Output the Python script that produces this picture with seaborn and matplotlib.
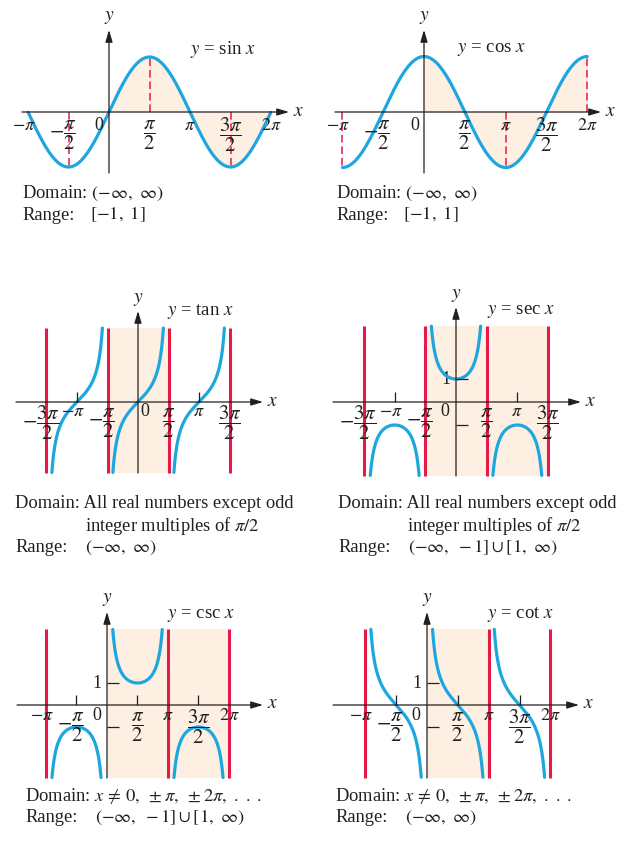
import numpy as np
import pandas as pd
import matplotlib
matplotlib.use("Agg")
import matplotlib.pyplot as plt
import seaborn as sns

PI = np.pi
W, H = 631, 843

BLUE = "#1ea6e0"
RED = "#e6194b"
PEACH = "#fdf0e2"
INK = "#231f20"

# ---- data ----
sin_span = [-PI, 2 * PI]
sin_shade = [0, 2 * PI]
sin_dash = [-PI / 2, PI / 2, 3 * PI / 2]

cos_span = [-PI, 2 * PI]
cos_shade = [0, 2 * PI]
cos_dash = [-PI, PI, 2 * PI]

tan_branches = [(-3 * PI / 2, -PI / 2), (-PI / 2, PI / 2), (PI / 2, 3 * PI / 2)]
tan_asym = [-3 * PI / 2, -PI / 2, PI / 2, 3 * PI / 2]
tan_shade = [-PI / 2, PI / 2]
tan_clip = [-3.55, 3.7]

sec_branches = [(-3 * PI / 2, -PI / 2), (-PI / 2, PI / 2), (PI / 2, 3 * PI / 2)]
sec_asym = [-3 * PI / 2, -PI / 2, PI / 2, 3 * PI / 2]
sec_shade = [-PI / 2, 3 * PI / 2]
sec_clip = [-3.2, 3.3]

csc_branches = [(-PI, 0), (0, PI), (PI, 2 * PI)]
csc_asym = [-PI, PI, 2 * PI]
csc_shade = [0, 2 * PI]
csc_clip = [-3.3, 3.45]

cot_branches = [(-PI, 0), (0, PI), (PI, 2 * PI)]
cot_asym = [-PI, PI, 2 * PI]
cot_shade = [0, PI]
cot_clip = [-3.3, 3.45]

# tick labels
sc_tick_vals = [-PI, -PI / 2, 0, PI / 2, PI, 3 * PI / 2, 2 * PI]
sc_tick_labels = [r"$-\pi$", r"$-\dfrac{\pi}{2}$", "0", r"$\dfrac{\pi}{2}$",
                  r"$\pi$", r"$\dfrac{3\pi}{2}$", r"$2\pi$"]
ts_tick_vals = [-3 * PI / 2, -PI, -PI / 2, 0, PI / 2, PI, 3 * PI / 2]
ts_tick_labels = [r"$-\dfrac{3\pi}{2}$", r"$-\pi$", r"$-\dfrac{\pi}{2}$", "0",
                  r"$\dfrac{\pi}{2}$", r"$\pi$", r"$\dfrac{3\pi}{2}$"]
cc_tick_vals = sc_tick_vals
cc_tick_labels = sc_tick_labels
ts_small_ticks = [-PI, PI]
cc_small_ticks = [-PI / 2, PI / 2, 3 * PI / 2]

name_tex = [r"$y$ = sin $x$", r"$y$ = cos $x$", r"$y$ = tan $x$",
            r"$y$ = sec $x$", r"$y$ = csc $x$", r"$y$ = cot $x$"]
domains = [r"Domain: $(-\infty,\ \infty)$", r"Domain: $(-\infty,\ \infty)$",
           "Domain: All real numbers except odd", "Domain: All real numbers except odd",
           r"Domain: $x\,\neq\,0,\ \pm\pi,\ \pm2\pi,\ .\ .\ .$",
           r"Domain: $x\,\neq\,0,\ \pm\pi,\ \pm2\pi,\ .\ .\ .$"]
domain_extra = r"integer multiples of $\pi/2$"
ranges = [r"$[-1,\ 1]$", r"$[-1,\ 1]$", r"$(-\infty,\ \infty)$",
          r"$(-\infty,\ -1]\cup[1,\ \infty)$", r"$(-\infty,\ -1]\cup[1,\ \infty)$",
          r"$(-\infty,\ \infty)$"]

sns.set_theme(style="white")
plt.rcParams["font.family"] = ["Liberation Serif", "DejaVu Serif"]
plt.rcParams["mathtext.fontset"] = "stix"

fig = plt.figure(figsize=(W / 100, H / 100), dpi=100)
fig.patch.set_facecolor("white")

TXT = 13.3


def make_ax(origin, scale, box):
    ox, oy = origin
    sx, sy = scale
    l, t, r, b = box
    ax = fig.add_axes([l / W, 1 - b / H, (r - l) / W, (b - t) / H])
    ax.set_xlim((l - ox) / sx, (r - ox) / sx)
    ax.set_ylim((oy - b) / sy, (oy - t) / sy)
    ax.set_axis_off()
    return ax


def axis_arrows(ax, origin, scale, xl, xr, yb, yt):
    ox, oy = origin
    sx, sy = scale
    arr = dict(arrowstyle="-|>,head_length=0.6,head_width=0.18", lw=0.9,
               color=INK, shrinkA=0, shrinkB=0)
    x0, x1 = (xl - ox) / sx, (xr - ox) / sx
    y0, y1 = (oy - yb) / sy, (oy - yt) / sy
    ax.annotate("", xy=(x1, 0), xytext=(x0, 0), arrowprops=arr, zorder=5)
    ax.annotate("", xy=(0, y1), xytext=(0, y0), arrowprops=arr, zorder=5)
    ax.annotate(r"$x$", xy=(x1, 0), xytext=(4, 1), textcoords="offset pixels",
                ha="left", va="center", fontsize=14, color=INK)
    ax.annotate(r"$y$", xy=(0, y1), xytext=(0, 12), textcoords="offset pixels",
                ha="center", va="center", fontsize=14, color=INK)


def tick_labels(ax, vals, labels, dy_single, dy_frac, zero_dx):
    for v, s in zip(vals, labels):
        frac = "frac" in s
        if s == "0":
            dx = zero_dx
        elif s.startswith("$-"):
            dx = -6 if frac else -4
        else:
            dx = 0
        dy = dy_frac if frac else dy_single
        ax.annotate(s, xy=(v, 0), xytext=(dx, -dy), textcoords="offset pixels",
                    ha="center", va="center", fontsize=15 if frac else 13,
                    color=INK, zorder=6)


def curve(ax, f, lo, hi, clip=None):
    x = np.linspace(lo, hi, 1500)[1:-1]
    y = f(x)
    if clip is not None:
        keep = (y >= clip[0]) & (y <= clip[1])
        x, y = x[keep], y[keep]
    df = pd.DataFrame({"x": x, "y": y})
    sns.lineplot(data=df, x="x", y="y", ax=ax, color=BLUE, lw=2.3,
                 sort=False, estimator=None, zorder=4)


def small_ticks(ax, scale, xs, ones):
    sx, sy = scale
    if xs:
        ax.vlines(xs, 0, 10 / sy, color=INK, lw=0.9, zorder=5)
    if ones:
        ax.hlines([1, -1], 0, 12 / sx, color=INK, lw=0.9, zorder=5)
        ax.annotate("1", xy=(0, 1), xytext=(-10, 0), textcoords="offset pixels",
                    ha="center", va="center", fontsize=13, color=INK)


def px(x, y):
    return x / W, 1 - y / H


# ---- sin ----
o, s = (109, 112), (81 / PI, 55)
ax = make_ax(o, s, (5, 5, 308, 180))
xs = np.linspace(*sin_shade, 400)
ax.fill_between(xs, np.sin(xs), 0, color=PEACH, lw=0, zorder=0)
curve(ax, np.sin, sin_span[0] - 1e-9, sin_span[1] + 1e-9)
ax.vlines(sin_dash, 0, np.sin(sin_dash), color=RED, lw=1.1,
          linestyles=(0, (5, 2.5)), zorder=3)
axis_arrows(ax, o, s, 22, 289, 173, 30)
tick_labels(ax, sc_tick_vals, sc_tick_labels, 13, 23, -10)

# ---- cos ----
o, s = (424, 112), (81.7 / PI, 55.5)
ax = make_ax(o, s, (320, 5, 625, 180))
xs = np.linspace(*cos_shade, 400)
ax.fill_between(xs, np.cos(xs), 0, color=PEACH, lw=0, zorder=0)
curve(ax, np.cos, cos_span[0] - 1e-9, cos_span[1] + 1e-9)
ax.vlines(cos_dash, 0, np.cos(cos_dash), color=RED, lw=1.1,
          linestyles=(0, (5, 2.5)), zorder=3)
axis_arrows(ax, o, s, 335, 601, 173, 30)
tick_labels(ax, sc_tick_vals, sc_tick_labels, 13, 23, -9)

# ---- tan ----
o, s = (138, 402), (61 / PI, 20)
ax = make_ax(o, s, (5, 290, 305, 480))
ax.fill_between(tan_shade, tan_clip[0], tan_clip[1], color=PEACH, lw=0, zorder=0)
for lo, hi in tan_branches:
    curve(ax, np.tan, lo, hi, tan_clip)
ax.vlines(tan_asym, tan_clip[0], tan_clip[1], color=RED, lw=2.2, zorder=3)
axis_arrows(ax, o, s, 16, 263, 473, 311)
small_ticks(ax, s, ts_small_ticks, False)
tick_labels(ax, ts_tick_vals, ts_tick_labels, 9, 21, 7)

# ---- sec ----
o, s = (456, 402), (61.3 / PI, 23)
ax = make_ax(o, s, (320, 290, 625, 480))
ax.fill_between(sec_shade, sec_clip[0], sec_clip[1], color=PEACH, lw=0, zorder=0)
for lo, hi in sec_branches:
    curve(ax, lambda v: 1 / np.cos(v), lo, hi, sec_clip)
ax.vlines(sec_asym, sec_clip[0], sec_clip[1], color=RED, lw=2.2, zorder=3)
axis_arrows(ax, o, s, 333, 581, 476, 307)
small_ticks(ax, s, ts_small_ticks, True)
tick_labels(ax, ts_tick_vals, ts_tick_labels, 9, 21, -11)

# ---- csc ----
o, s = (107, 705), (61 / PI, 22)
ax = make_ax(o, s, (5, 595, 305, 785))
ax.fill_between(csc_shade, csc_clip[0], csc_clip[1], color=PEACH, lw=0, zorder=0)
for lo, hi in csc_branches:
    curve(ax, lambda v: 1 / np.sin(v), lo, hi, csc_clip)
ax.vlines(csc_asym, csc_clip[0], csc_clip[1], color=RED, lw=2.2, zorder=3)
axis_arrows(ax, o, s, 17, 263, 778, 612)
small_ticks(ax, s, cc_small_ticks, True)
tick_labels(ax, cc_tick_vals, cc_tick_labels, 11, 22, -10)

# ---- cot ----
o, s = (427, 705), (61.7 / PI, 22)
ax = make_ax(o, s, (320, 595, 625, 785))
ax.fill_between(cot_shade, cot_clip[0], cot_clip[1], color=PEACH, lw=0, zorder=0)
for lo, hi in cot_branches:
    curve(ax, lambda v: 1 / np.tan(v), lo, hi, cot_clip)
ax.vlines(cot_asym, cot_clip[0], cot_clip[1], color=RED, lw=2.2, zorder=3)
axis_arrows(ax, o, s, 333, 579, 778, 612)
small_ticks(ax, s, cc_small_ticks, True)
tick_labels(ax, cc_tick_vals, cc_tick_labels, 11, 22, -11)

# ---- function names ----
name_pos = [(190, 50), (457, 50), (167, 312), (487, 312), (167, 615), (487, 615)]
for (x, y), t in zip(name_pos, name_tex):
    fig.text(*px(x, y), t, ha="left", va="center", fontsize=13.5, color=INK)

# ---- domain / range text ----
dom_pos = [(22, 193), (336, 193), (15, 504), (338, 504), (25, 796), (335, 796)]
rng_pos = [(22, 215), (336, 215), (15, 548), (338, 548), (25, 818), (335, 818)]
rng_val_x = [90, 403, 85, 408, 95, 405]
for i in range(6):
    fig.text(*px(*dom_pos[i]), domains[i], ha="left", va="center", fontsize=TXT, color=INK)
    fig.text(*px(*rng_pos[i]), "Range:", ha="left", va="center", fontsize=TXT, color=INK)
    fig.text(*px(rng_val_x[i], rng_pos[i][1]), ranges[i], ha="left", va="center",
             fontsize=TXT, color=INK)
fig.text(*px(85, 526), domain_extra, ha="left", va="center", fontsize=TXT, color=INK)
fig.text(*px(407, 526), domain_extra, ha="left", va="center", fontsize=TXT, color=INK)

fig.savefig("out.png", dpi=100, facecolor="white")
